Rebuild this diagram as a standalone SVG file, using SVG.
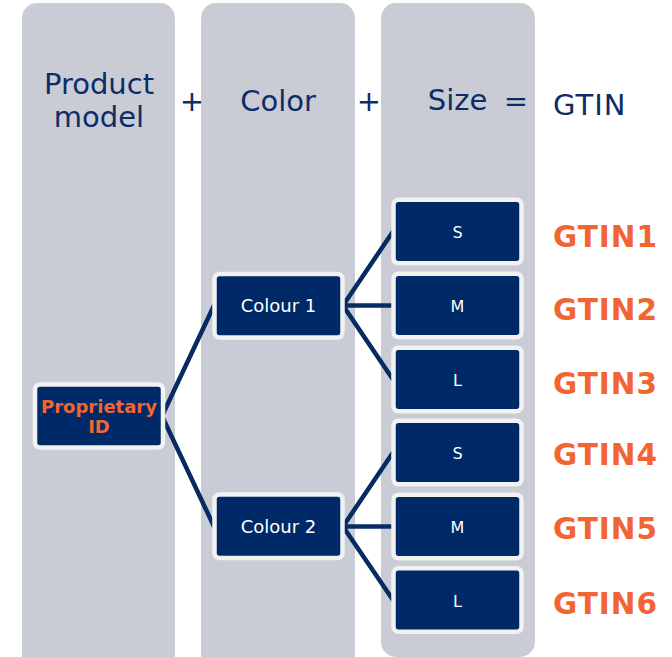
<svg xmlns="http://www.w3.org/2000/svg" width="672" height="657" viewBox="0 0 672 657">
<style>
.col{fill:#c9ccd4}
.box{fill:#002a67;stroke:#f2f2f3;stroke-width:4.5}
.hdr{font-family:"DejaVu Sans",Verdana,sans-serif;font-size:29px;fill:#0c2c68}
.lbl{font-family:"DejaVu Sans",Verdana,sans-serif;font-size:18px;fill:#ffffff;text-anchor:middle}
.sz{font-family:"DejaVu Sans",Verdana,sans-serif;font-size:16px;fill:#ffffff;text-anchor:middle}
.gt{font-family:"DejaVu Sans",Verdana,sans-serif;font-weight:bold;font-size:29.5px;letter-spacing:1px;fill:#f26532}
.pid{font-family:"DejaVu Sans",Verdana,sans-serif;font-weight:bold;font-size:18px;fill:#f26532;text-anchor:middle}
.ln{stroke:#062a62;stroke-width:4.5;fill:none;stroke-linecap:round}
</style>
<rect width="672" height="657" fill="#ffffff"/>
<g id="columns">
<rect class="col" x="22" y="3" width="153" height="670" rx="15"/>
<rect class="col" x="201" y="3" width="154" height="670" rx="15"/>
<rect class="col" x="381" y="3" width="154" height="654" rx="15"/>
</g>
<g id="headers">
<text class="hdr" x="99" y="94" text-anchor="middle">Product</text>
<text class="hdr" x="99" y="127" text-anchor="middle">model</text>
<text class="hdr" x="192" y="111" text-anchor="middle">+</text>
<text class="hdr" x="278" y="111" text-anchor="middle">Color</text>
<text class="hdr" x="369" y="111" text-anchor="middle">+</text>
<text class="hdr" x="457.5" y="110" text-anchor="middle">Size</text>
<text class="hdr" x="516" y="111" text-anchor="middle">=</text>
<text class="hdr" x="553" y="115" letter-spacing="1">GTIN</text>
</g>
<g id="connectors">
<path class="ln" d="M162 416 L214 305.5 M162 416 L214 526.5"/>
<path class="ln" d="M343 305.5 L393 231.5 M343 305.5 L393 305.5 M343 305.5 L393 379.5"/>
<path class="ln" d="M343 526.5 L393 452.5 M343 526.5 L393 526.5 M343 526.5 L393 600"/>
</g>
<g id="proprietary">
<rect class="box" x="35" y="384.5" width="128" height="63" rx="5"/>
<text class="pid" x="99" y="413">Proprietary</text>
<text class="pid" x="99" y="433">ID</text>
</g>
<g id="colour1">
<rect class="box" x="214.5" y="274" width="128" height="63.5" rx="5"/>
<text class="lbl" x="278.5" y="312">Colour 1</text>
</g>
<g id="colour2">
<rect class="box" x="214.5" y="494.5" width="128" height="63.5" rx="5"/>
<text class="lbl" x="278.5" y="533">Colour 2</text>
</g>
<g id="s1"><rect class="box" x="393.5" y="199.75" width="128" height="63.5" rx="5"/><text class="sz" x="457.5" y="238">S</text></g>
<g id="m1"><rect class="box" x="393.5" y="273.75" width="128" height="63.5" rx="5"/><text class="sz" x="457.5" y="312">M</text></g>
<g id="l1"><rect class="box" x="393.5" y="347.75" width="128" height="63.5" rx="5"/><text class="sz" x="457.5" y="386">L</text></g>
<g id="s2"><rect class="box" x="393.5" y="420.75" width="128" height="63.5" rx="5"/><text class="sz" x="457.5" y="459">S</text></g>
<g id="m2"><rect class="box" x="393.5" y="494.75" width="128" height="63.5" rx="5"/><text class="sz" x="457.5" y="533">M</text></g>
<g id="l2"><rect class="box" x="393.5" y="568.25" width="128" height="63.5" rx="5"/><text class="sz" x="457.5" y="607">L</text></g>
<g id="gtins">
<text class="gt" x="553" y="247">GTIN1</text>
<text class="gt" x="553" y="320">GTIN2</text>
<text class="gt" x="553" y="394">GTIN3</text>
<text class="gt" x="553" y="465">GTIN4</text>
<text class="gt" x="553" y="539">GTIN5</text>
<text class="gt" x="553" y="614">GTIN6</text>
</g>
</svg>
